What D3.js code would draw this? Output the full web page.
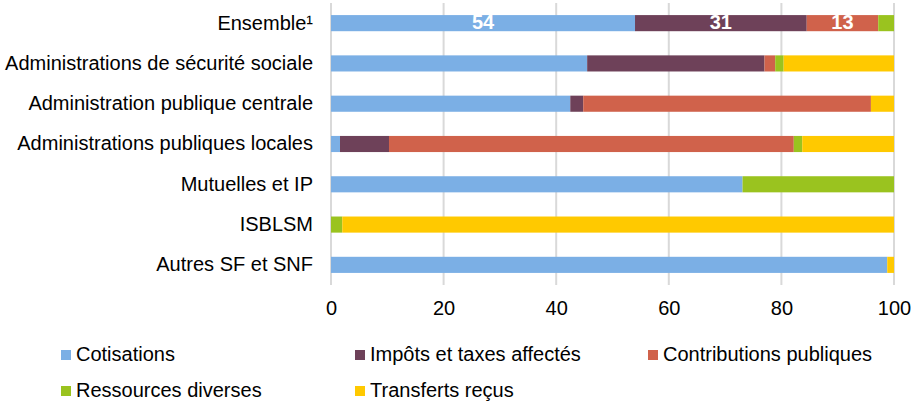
<!DOCTYPE html>
<html>
<head>
<meta charset="utf-8">
<script src="https://cdn.jsdelivr.net/npm/d3@7"></script>
<style>
  html, body { margin: 0; padding: 0; background: #fff; }
  svg { display: block; font-family: "Liberation Sans", Arial, sans-serif; }
</style>
</head>
<body>
<svg id="chart" width="916" height="406"></svg>
<script>
// Structure des ressources par type d'organisme (en %)
const categories = [
  "Ensemble¹",
  "Administrations de sécurité sociale",
  "Administration publique centrale",
  "Administrations publiques locales",
  "Mutuelles et IP",
  "ISBLSM",
  "Autres SF et SNF"
];
const seriesNames = [
  "Cotisations",
  "Impôts et taxes affectés",
  "Contributions publiques",
  "Ressources diverses",
  "Transferts reçus"
];
const cotisations    = [54.0, 45.5, 42.5,  1.6, 73.1,  0.0, 98.8];
const impots         = [30.5, 31.5,  2.3,  8.7,  0.0,  0.0,  0.0];
const contributions  = [12.7,  1.9, 51.1, 71.9,  0.0,  0.0,  0.0];
const diverses       = [ 2.8,  1.5,  0.0,  1.5, 26.9,  2.0,  0.0];
const transferts     = [ 0.0, 19.6,  4.1, 16.3,  0.0, 98.0,  1.2];
const tickValues     = [0, 20, 40, 60, 80, 100];
// Only the "Ensemble" bar carries value labels, for its three main segments
const labelledRow = "Ensemble¹";
const labelledSeries = ["Cotisations", "Impôts et taxes affectés", "Contributions publiques"];

const colors = ["#7bafe5", "#6e4159", "#d0624b", "#9ac31f", "#ffc900"];

const rows = categories.map((c, i) => ({
  category: c,
  "Cotisations": cotisations[i],
  "Impôts et taxes affectés": impots[i],
  "Contributions publiques": contributions[i],
  "Ressources diverses": diverses[i],
  "Transferts reçus": transferts[i]
}));

const svg = d3.select("#chart");
const margin = { left: 331, right: 22, top: 3, bottom: 121 };
const W = 916, H = 406;
const FONT = 20;

const x = d3.scaleLinear().domain([0, 100]).range([margin.left, W - margin.right]);
const y = d3.scaleBand().domain(categories).range([margin.top, H - margin.bottom]).paddingInner(0.6).paddingOuter(0.3);
const color = d3.scaleOrdinal().domain(seriesNames).range(colors);

// vertical grid
svg.append("g")
  .selectAll("line")
  .data(tickValues)
  .join("line")
  .attr("x1", d => x(d)).attr("x2", d => x(d))
  .attr("y1", margin.top).attr("y2", H - margin.bottom)
  .attr("stroke", "#d9d9d9")
  .attr("stroke-width", 2);

// x tick labels
const xAxis = d3.axisBottom(x).tickValues(tickValues).tickSize(0).tickPadding(0);
const gx = svg.append("g")
  .attr("transform", `translate(0,${H - margin.bottom})`)
  .call(xAxis);
gx.select(".domain").remove();
gx.selectAll("text")
  .attr("dy", null)
  .attr("y", 25)
  .attr("dominant-baseline", "middle")
  .attr("font-size", FONT)
  .attr("font-family", "Liberation Sans, Arial, sans-serif")
  .attr("fill", "#000");

// stacked bars
const stack = d3.stack().keys(seriesNames);
const layers = stack(rows);

const gBars = svg.append("g");
layers.forEach(layer => {
  gBars.append("g")
    .attr("fill", color(layer.key))
    .selectAll("rect")
    .data(layer.filter(d => d[1] - d[0] > 0))
    .join("rect")
    .attr("x", d => x(d[0]))
    .attr("width", d => x(d[1]) - x(d[0]))
    .attr("y", d => y(d.data.category))
    .attr("height", y.bandwidth());
});

// value labels
layers.filter(l => labelledSeries.includes(l.key)).forEach(layer => {
  const d = layer.find(p => p.data.category === labelledRow);
  svg.append("text")
    .attr("x", (x(d[0]) + x(d[1])) / 2)
    .attr("y", y(labelledRow) + y.bandwidth() / 2 + 1)
    .attr("text-anchor", "middle")
    .attr("dominant-baseline", "middle")
    .attr("font-size", FONT)
    .attr("font-weight", "bold")
    .attr("fill", "#fff")
    .text(d3.format(".0f")(d[1] - d[0]));
});

// y category labels
const yAxis = d3.axisLeft(y).tickSize(0).tickPadding(18);
const gy = svg.append("g")
  .attr("transform", `translate(${margin.left},0)`)
  .call(yAxis);
gy.select(".domain").remove();
gy.selectAll("text")
  .attr("font-size", FONT)
  .attr("font-family", "Liberation Sans, Arial, sans-serif")
  .attr("fill", "#000");

// legend
const legendPos = [
  { x: 61,  y: 355 },
  { x: 355, y: 355 },
  { x: 648, y: 355 },
  { x: 61,  y: 391 },
  { x: 355, y: 391 }
];
const lg = svg.append("g")
  .selectAll("g")
  .data(seriesNames)
  .join("g")
  .attr("transform", (d, i) => `translate(${legendPos[i].x},${legendPos[i].y})`);
lg.append("rect")
  .attr("x", 0).attr("y", -5)
  .attr("width", 10).attr("height", 10)
  .attr("fill", d => color(d));
lg.append("text")
  .attr("x", 15).attr("y", 1)
  .attr("dominant-baseline", "middle")
  .attr("font-size", FONT)
  .attr("fill", "#000")
  .text(d => d);
</script>
</body>
</html>
